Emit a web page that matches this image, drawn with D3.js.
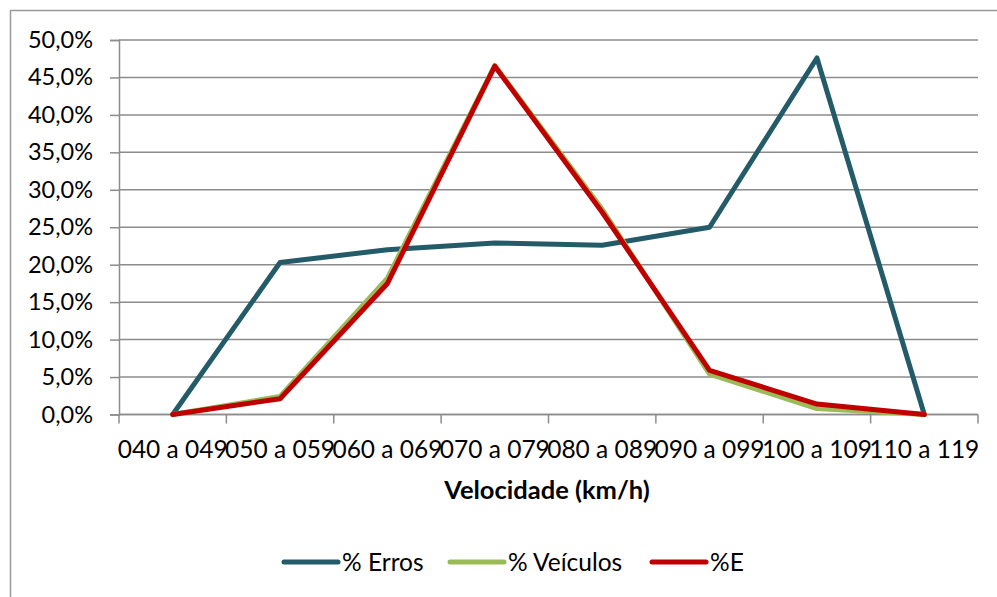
<!DOCTYPE html>
<html><head><meta charset="utf-8">
<script src="https://cdn.jsdelivr.net/npm/d3@7"></script>
<style>
body{margin:0;background:#fff;}
svg{display:block;font-family:Lato,"Open Sans",sans-serif;}
</style></head>
<body><svg id="c" width="997" height="597"></svg>
<script>
const categories = ["040 a 049","050 a 059","060 a 069","070 a 079","080 a 089","090 a 099","100 a 109","110 a 119"];
const erros    = [0, 20.3, 22.0, 22.9, 22.6, 25.0, 47.6, 0];
const veiculos = [0, 2.4, 18.2, 46.6, 27.4, 5.4, 0.8, 0];
const pctE     = [0, 2.1, 17.5, 46.5, 27.0, 5.9, 1.4, 0];
const yTicks   = [0,5,10,15,20,25,30,35,40,45,50];
const seriesNames = ["% Erros","% Veículos","%E"];
const seriesColors = ["#245B69","#9BBB59","#C00000"];

const svg = d3.select("#c");
// outer chart border (top & left visible)
svg.append("rect").attr("x",10.5).attr("y",10.5).attr("width",1000).attr("height",700)
  .attr("fill","none").attr("stroke","#9a9a9a").attr("stroke-width",1.5);

const L=119, R=978, T=40, B=414.5;
const x = d3.scaleBand().domain(categories).range([L,R]);
const y = d3.scaleLinear().domain([0,50]).range([B,T]);

// gridlines
svg.append("g").selectAll("line").data(yTicks).join("line")
  .attr("x1",L).attr("x2",R).attr("y1",d=>y(d)).attr("y2",d=>y(d))
  .attr("stroke","#8c8c8c").attr("stroke-width",1.5);

// y axis
const fmt = d=>d3.format(".1f")(d).replace(".",",")+"%";
const yAxis = svg.append("g").attr("transform",`translate(${L},0)`)
  .call(d3.axisLeft(y).tickValues(yTicks).tickFormat(fmt).tickSize(9).tickPadding(17));
yAxis.select(".domain").attr("stroke","#8c8c8c").attr("stroke-width",1.5);
yAxis.selectAll(".tick line").attr("stroke","#8c8c8c").attr("stroke-width",1.5);
yAxis.selectAll("text").attr("font-size",23.5).attr("fill","#000").attr("font-family","Lato");

// x axis
const xAxis = svg.append("g").attr("transform",`translate(0,${B})`)
  .call(d3.axisBottom(x).tickSize(0).tickPadding(0));
xAxis.select(".domain").remove();
xAxis.selectAll(".tick text").attr("font-size",24.5).attr("fill","#000").attr("font-family","Lato")
  .attr("dy",0).attr("y",43);
// x tick marks at band boundaries
const bounds = categories.map(c=>x(c)).concat([R]);
svg.append("g").selectAll("line").data(bounds).join("line")
  .attr("x1",d=>d).attr("x2",d=>d).attr("y1",B).attr("y2",B+9)
  .attr("stroke","#8c8c8c").attr("stroke-width",1.5);
svg.append("line").attr("x1",L).attr("x2",R).attr("y1",B).attr("y2",B)
  .attr("stroke","#8c8c8c").attr("stroke-width",1.5);

// axis title
svg.append("text").attr("x",547).attr("y",499).attr("text-anchor","middle")
  .attr("font-size",25.5).attr("font-weight","bold").text("Velocidade (km/h)");

// lines
const line = d3.line().x((d,i)=>x(categories[i])+x.bandwidth()/2).y(d=>y(d));
[erros,veiculos,pctE].forEach((s,k)=>{
  svg.append("path").datum(s).attr("d",line).attr("fill","none")
    .attr("stroke",seriesColors[k]).attr("stroke-width",5)
    .attr("stroke-linejoin","round").attr("stroke-linecap","round");
});

// legend
const legX = [284, 450, 652];
const lg = svg.append("g");
seriesNames.forEach((n,k)=>{
  lg.append("line").attr("x1",legX[k]).attr("x2",legX[k]+54).attr("y1",562).attr("y2",562)
    .attr("stroke",seriesColors[k]).attr("stroke-width",5).attr("stroke-linecap","round");
  lg.append("text").attr("x",legX[k]+58).attr("y",570.5).attr("font-size",24.5).text(n);
});
</script></body></html>
